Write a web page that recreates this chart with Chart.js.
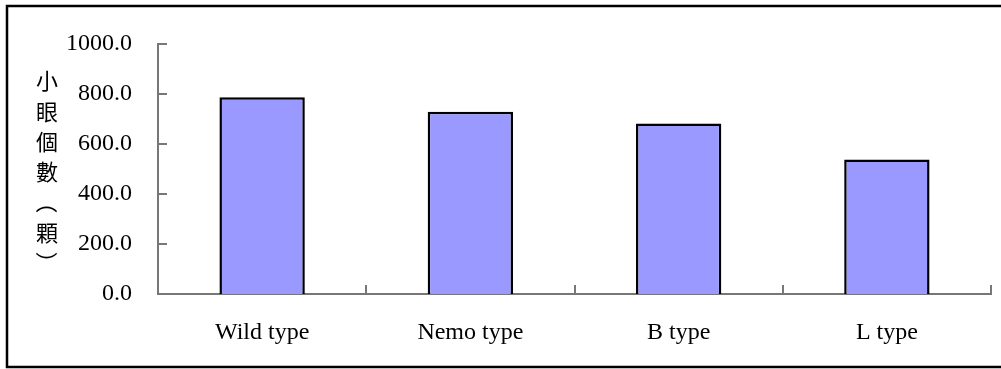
<!DOCTYPE html>
<html>
<head>
<meta charset="utf-8">
<script src="https://cdn.jsdelivr.net/npm/chart.js@4"></script>
<style>
  html, body { margin: 0; padding: 0; background: #fff; }
  #wrap { width: 1001px; height: 369px; position: relative; }
</style>
</head>
<body>
<div id="wrap"><canvas id="chart1" width="1001" height="369"></canvas></div>
<script>
// data
var categories = ["Wild type", "Nemo type", "B type", "L type"];
var eyeCounts = [787, 729, 682, 538];
var yTicks = [0, 200, 400, 600, 800, 1000];
var yTitleChars = ["小", "眼", "個", "數", "（", "顆", "）"];

var axisGray = "#777777";
var serif = "'Liberation Serif', 'Times New Roman', serif";

// outer frame + vertical y title + inward tick marks
var decorations = {
  id: "decorations",
  afterDraw: function(chart) {
    var ctx = chart.ctx;
    var xs = chart.scales.x, ys = chart.scales.y;
    ctx.save();

    // inward ticks on y axis
    ctx.strokeStyle = axisGray;
    ctx.lineWidth = 2;
    yTicks.forEach(function(v) {
      var py = Math.round(ys.getPixelForValue(v));
      ctx.beginPath();
      ctx.moveTo(xs.left, py);
      ctx.lineTo(xs.left + 9, py);
      ctx.stroke();
    });
    // inward ticks on x axis at category edges
    var w = (xs.right - xs.left) / categories.length;
    for (var i = 0; i <= categories.length; i++) {
      var px = Math.round(xs.left + w * i);
      ctx.beginPath();
      ctx.moveTo(px, ys.bottom);
      ctx.lineTo(px, ys.bottom - 9);
      ctx.stroke();
    }

    // vertical chinese title, brackets turned sideways
    ctx.fillStyle = "#000";
    ctx.font = "22px 'Noto Sans CJK TC'";
    ctx.textAlign = "center";
    ctx.textBaseline = "middle";
    yTitleChars.forEach(function(c, k) {
      var cy = 81 + k * 30.3;
      if (c === "（" || c === "）") {
        ctx.save();
        ctx.translate(47, cy);
        ctx.rotate(Math.PI / 2);
        ctx.fillText(c, 0, 0);
        ctx.restore();
      } else {
        ctx.fillText(c, 47, cy);
      }
    });

    // frame around the whole chart
    ctx.strokeStyle = "#000";
    ctx.lineWidth = 2.5;
    ctx.strokeRect(7, 6, 1000, 361);
    ctx.restore();
  }
};

var ctx = document.getElementById("chart1").getContext("2d");
new Chart(ctx, {
  type: "bar",
  data: {
    labels: categories,
    datasets: [{
      data: eyeCounts,
      backgroundColor: "#9999FF",
      borderColor: "#000000",
      borderWidth: 2.5,
      barPercentage: 0.41,
      categoryPercentage: 1.0
    }]
  },
  options: {
    responsive: false,
    animation: false,
    layout: { padding: { left: 0, right: 10, top: 44, bottom: 0 } },
    plugins: { legend: { display: false }, tooltip: { enabled: false } },
    scales: {
      x: {
        grid: { display: false, drawTicks: false },
        border: { display: true, color: axisGray, width: 2 },
        ticks: { color: "#000", font: { family: serif, size: 24 }, padding: 24 },
        afterFit: function(scale) { scale.height = 75; }
      },
      y: {
        min: 0,
        max: 1000,
        grid: { display: false, drawTicks: false },
        border: { display: true, color: axisGray, width: 2 },
        afterBuildTicks: function(scale) {
          scale.ticks = yTicks.map(function(v) { return { value: v }; });
        },
        ticks: {
          color: "#000",
          font: { family: serif, size: 24 },
          padding: 26,
          callback: function(v) { return Number(v).toFixed(1); }
        },
        afterFit: function(scale) { scale.width = 158; }
      }
    }
  },
  plugins: [decorations]
});
</script>
</body>
</html>
